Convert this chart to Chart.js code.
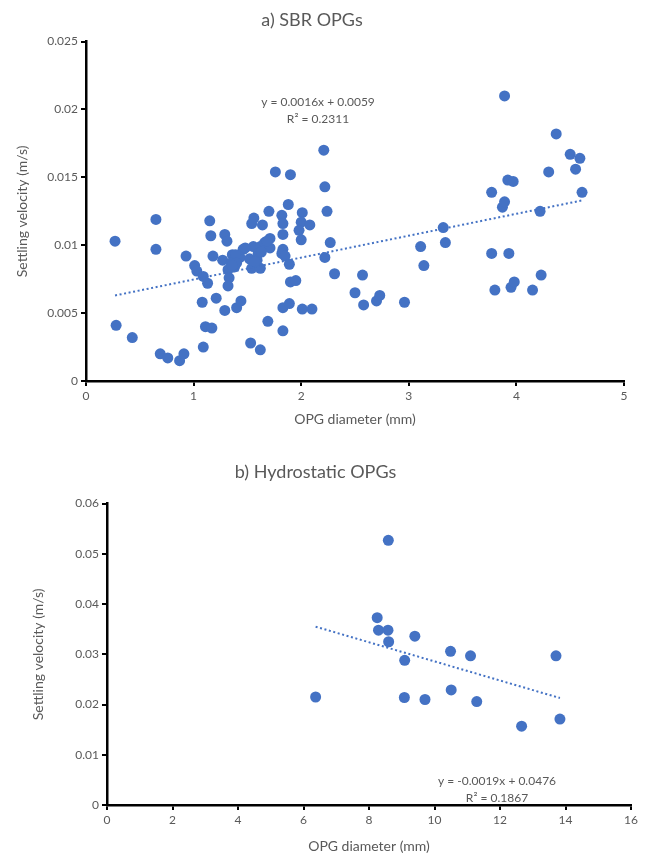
<!DOCTYPE html>
<html>
<head>
<meta charset="utf-8">
<title>Settling velocity vs OPG diameter</title>
<script src="https://cdn.jsdelivr.net/npm/chart.js@4.4.1/dist/chart.umd.min.js"></script>
<style>
    body { margin: 0; background: #fff; }
    canvas { display: block; }
</style>
</head>
<body>
<canvas id="sbrChart" width="656" height="440"></canvas>
<canvas id="hydroChart" width="656" height="420"></canvas>
<script>
// a) SBR OPGs - diameter (mm) and settling velocity (m/s)
const sbrDiameter = [
    0.27, 0.28, 0.43, 0.65, 0.65, 0.69, 0.76, 0.87, 0.91, 0.93,
    1.01, 1.03, 1.09, 1.13, 1.08, 1.09, 1.11, 1.17, 1.15, 1.16,
    1.18, 1.21, 1.27, 1.29, 1.31, 1.29, 1.32, 1.33, 1.32, 1.36,
    1.38, 1.40, 1.44, 1.43, 1.46, 1.53, 1.62, 1.56, 1.54, 1.64,
    1.52, 1.555, 1.62, 1.66, 1.71, 1.60, 1.59, 1.54, 1.62, 1.71,
    1.48, 1.39, 1.35, 1.40, 1.57, 1.63, 1.36,
    1.70, 1.76, 1.90, 1.88, 1.82, 2.01, 1.83, 2.00, 2.08, 1.98,
    1.83, 2.00, 2.21, 2.22, 2.24, 2.27, 1.68, 1.83, 1.82, 1.85,
    2.22, 1.89, 2.31, 1.90, 1.95, 1.83, 1.89, 2.01, 2.10, 1.69, 1.83,
    2.50, 2.57, 2.58, 2.70, 2.73, 2.96, 3.11, 3.14, 3.32, 3.34,
    3.77, 3.77, 3.80, 3.87, 3.89, 3.89, 3.92, 3.97, 3.93, 3.95,
    3.98, 4.15, 4.22, 4.23, 4.30, 4.37, 4.50, 4.55, 4.59, 4.61
];
const sbrVelocity = [
    0.0103, 0.0041, 0.0032, 0.0119, 0.0097, 0.0020, 0.0017, 0.0015, 0.0020, 0.0092,
    0.0085, 0.0081, 0.0077, 0.0072, 0.0058, 0.0025, 0.0040, 0.0039, 0.0118, 0.0107,
    0.0092, 0.0061, 0.0089, 0.0108, 0.0103, 0.0052, 0.0082, 0.0076, 0.0070, 0.0093,
    0.0084, 0.0054, 0.0059, 0.0091, 0.0097, 0.0028, 0.0023, 0.0120, 0.0116, 0.0115,
    0.0090, 0.0099, 0.0099, 0.0102, 0.0105, 0.0094, 0.0089, 0.0083, 0.0083, 0.0098,
    0.0098, 0.0093, 0.0087, 0.0087, 0.0088, 0.0095, 0.0085,
    0.0125, 0.0154, 0.0152, 0.0130, 0.0122, 0.0124, 0.0116, 0.0117, 0.0115, 0.0111,
    0.0108, 0.0104, 0.0170, 0.0143, 0.0125, 0.0102, 0.0103, 0.0097, 0.0094, 0.0092,
    0.0091, 0.0086, 0.0079, 0.0073, 0.0074, 0.0054, 0.0057, 0.0053, 0.0053, 0.0044, 0.0037,
    0.0065, 0.0078, 0.0056, 0.0059, 0.0063, 0.0058, 0.0099, 0.0085, 0.0113, 0.0102,
    0.0139, 0.0094, 0.0067, 0.0128, 0.0132, 0.0210, 0.0148, 0.0147, 0.0094, 0.0069,
    0.0073, 0.0067, 0.0125, 0.0078, 0.0154, 0.0182, 0.0167, 0.0156, 0.0164, 0.0139
];
// linear trendline ends (y = 0.0016x + 0.0059)
const sbrTrendX = [0.27, 4.61];
const sbrTrendY = [0.0063, 0.0133];
const sbrEquation = ['y = 0.0016x + 0.0059', 'R\u00b2 = 0.2311'];

// b) Hydrostatic OPGs
const hydroDiameter = [
    8.59, 8.25, 8.29, 8.58, 8.60, 9.40, 9.09, 10.49, 11.10, 13.71,
    6.37, 9.08, 9.71, 10.51, 11.29, 12.66, 13.83
];
const hydroVelocity = [
    0.0527, 0.0373, 0.0348, 0.0348, 0.0325, 0.0336, 0.0288, 0.0306, 0.0297, 0.0297,
    0.0215, 0.0214, 0.0210, 0.0229, 0.0206, 0.0157, 0.0171
];
const hydroTrendX = [6.37, 13.83];
const hydroTrendY = [0.0355, 0.0213];
const hydroEquation = ['y = -0.0019x + 0.0476', 'R\u00b2 = 0.1867'];

const markerColor = '#4472C4';
const textColor = '#595959';
const fontName = 'Lato, "Open Sans", sans-serif';

function toPoints(xs, ys) {
    return xs.map((x, i) => ({ x: x, y: ys[i] }));
}

// draws the trendline equation text (Excel style label)
const equationLabel = {
    id: 'equationLabel',
    afterDraw(chart, args, opts) {
        const ctx = chart.ctx;
        ctx.save();
        ctx.fillStyle = textColor;
        ctx.font = '12px ' + fontName;
        ctx.textAlign = 'center';
        ctx.textBaseline = 'middle';
        opts.lines.forEach((line, i) => {
            ctx.fillText(line, opts.x, opts.y + i * 17);
        });
        ctx.restore();
    }
};

function makeChart(canvasId, cfg) {
    const ctx = document.getElementById(canvasId).getContext('2d');
    return new Chart(ctx, {
        type: 'scatter',
        data: {
            datasets: [
                {
                    type: 'line',
                    data: toPoints(cfg.trendX, cfg.trendY),
                    borderColor: markerColor,
                    borderWidth: 2,
                    borderDash: [2, 2.6],
                    pointRadius: 0,
                    fill: false
                },
                {
                    data: toPoints(cfg.xs, cfg.ys),
                    backgroundColor: markerColor,
                    borderColor: markerColor,
                    borderWidth: 0,
                    pointRadius: 5.5,
                    pointHoverRadius: 5.5
                }
            ]
        },
        plugins: [equationLabel],
        options: {
            responsive: false,
            animation: false,
            layout: { padding: { left: 0, right: cfg.padRight, top: 0, bottom: 0 } },
            plugins: {
                legend: { display: false },
                tooltip: { enabled: false },
                title: {
                    display: true,
                    text: cfg.title,
                    color: textColor,
                    font: { family: fontName, size: 18, weight: 'normal' },
                    padding: cfg.titlePadding
                },
                equationLabel: { lines: cfg.equation, x: cfg.eqX, y: cfg.eqY }
            },
            scales: {
                x: {
                    type: 'linear',
                    min: 0,
                    max: cfg.xMax,
                    afterFit: (s) => { s.height = cfg.xAxisHeight; },
                    ticks: {
                        stepSize: cfg.xStep,
                        color: textColor,
                        font: { family: fontName, size: 12 }
                    },
                    grid: { drawOnChartArea: false, color: '#000', lineWidth: 2, tickLength: 5 },
                    border: { color: '#000', width: 2.5 },
                    title: {
                        display: true,
                        text: 'OPG diameter (mm)',
                        color: textColor,
                        font: { family: fontName, size: 14 },
                        padding: { top: 0, bottom: cfg.xTitleBottom }
                    }
                },
                y: {
                    min: 0,
                    max: cfg.yMax,
                    afterFit: (s) => { s.width = cfg.yAxisWidth; },
                    ticks: {
                        stepSize: cfg.yStep,
                        color: textColor,
                        font: { family: fontName, size: 12 },
                        callback: (v) => String(+v.toFixed(3))
                    },
                    grid: { drawOnChartArea: false, color: '#000', lineWidth: 2, tickLength: 5 },
                    border: { color: '#000', width: 2.5 },
                    title: {
                        display: true,
                        text: 'Settling velocity (m/s)',
                        color: textColor,
                        font: { family: fontName, size: 14 },
                        padding: { top: cfg.yTitleLeft, bottom: 0 }
                    }
                }
            }
        }
    });
}

makeChart('sbrChart', {
    title: 'a) SBR OPGs',
    xs: sbrDiameter, ys: sbrVelocity,
    trendX: sbrTrendX, trendY: sbrTrendY,
    equation: sbrEquation, eqX: 318, eqY: 102,
    xMax: 5, xStep: 1, yMax: 0.025, yStep: 0.005,
    padRight: 32, titlePadding: { top: 9, bottom: 11 },
    xAxisHeight: 59, yAxisWidth: 86, xTitleBottom: 12, yTitleLeft: 14
});

makeChart('hydroChart', {
    title: 'b) Hydrostatic OPGs',
    xs: hydroDiameter, ys: hydroVelocity,
    trendX: hydroTrendX, trendY: hydroTrendY,
    equation: hydroEquation, eqX: 497, eqY: 341,
    xMax: 16, xStep: 2, yMax: 0.06, yStep: 0.01,
    padRight: 25, titlePadding: { top: 21, bottom: 21 },
    xAxisHeight: 55, yAxisWidth: 107, xTitleBottom: 5, yTitleLeft: 30
});
</script>
</body>
</html>
